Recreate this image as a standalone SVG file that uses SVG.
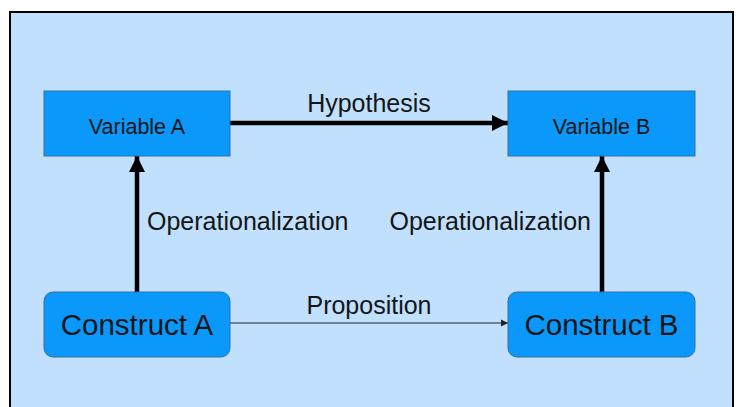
<svg xmlns="http://www.w3.org/2000/svg" width="741" height="407" viewBox="0 0 741 407">
<style>
.node rect{fill:#0a98fa;stroke:#3a6ca6;stroke-width:1}
text{font-family:"Liberation Sans",Arial,sans-serif;fill:#151515}
.lbl{font-size:25px}
.thick{stroke:#000;stroke-width:4.5;fill:none}
.thin{stroke:#222;stroke-width:1;fill:none}
</style>
<defs>
<marker id="big" markerUnits="userSpaceOnUse" markerWidth="18" markerHeight="18" refX="16" refY="8" orient="auto" viewBox="0 0 18 16">
<path d="M0,0 L16,8 L0,16 Z" fill="#000"/>
</marker>
<marker id="small" markerUnits="userSpaceOnUse" markerWidth="8" markerHeight="8" refX="7" refY="3.5" orient="auto" viewBox="0 0 8 7">
<path d="M0,0 L7,3.5 L0,7 Z" fill="#222"/>
</marker>
</defs>
<rect x="0" y="0" width="741" height="407" fill="#fff"/>
<rect x="10" y="12" width="723" height="410" fill="#c0e0fd" stroke="#000" stroke-width="2"/>
<g id="connectors">
<line class="thick" x1="230" y1="123" x2="508" y2="123" marker-end="url(#big)"/>
<line class="thin" x1="230" y1="323" x2="508" y2="323" marker-end="url(#small)"/>
<line class="thick" x1="137" y1="292" x2="137" y2="156" marker-end="url(#big)"/>
<line class="thick" x1="602" y1="292" x2="602" y2="156" marker-end="url(#big)"/>
<text class="lbl" x="369" y="112" text-anchor="middle">Hypothesis</text>
<text class="lbl" x="369" y="314" text-anchor="middle">Proposition</text>
<text class="lbl" x="147" y="230">Operationalization</text>
<text class="lbl" x="591" y="230" text-anchor="end">Operationalization</text>
</g>
<g id="variableA" class="node">
<rect x="44" y="91" width="186" height="65"/>
<text x="137" y="134" text-anchor="middle" font-size="21.5">Variable A</text>
</g>
<g id="variableB" class="node">
<rect x="508" y="91" width="187" height="65"/>
<text x="601.5" y="134" text-anchor="middle" font-size="21.5">Variable B</text>
</g>
<g id="constructA" class="node">
<rect x="44" y="292" width="186" height="65" rx="9"/>
<text x="137" y="335" text-anchor="middle" font-size="29.5">Construct A</text>
</g>
<g id="constructB" class="node">
<rect x="508" y="292" width="187" height="65" rx="9"/>
<text x="601.5" y="335" text-anchor="middle" font-size="29.5">Construct B</text>
</g>
</svg>
